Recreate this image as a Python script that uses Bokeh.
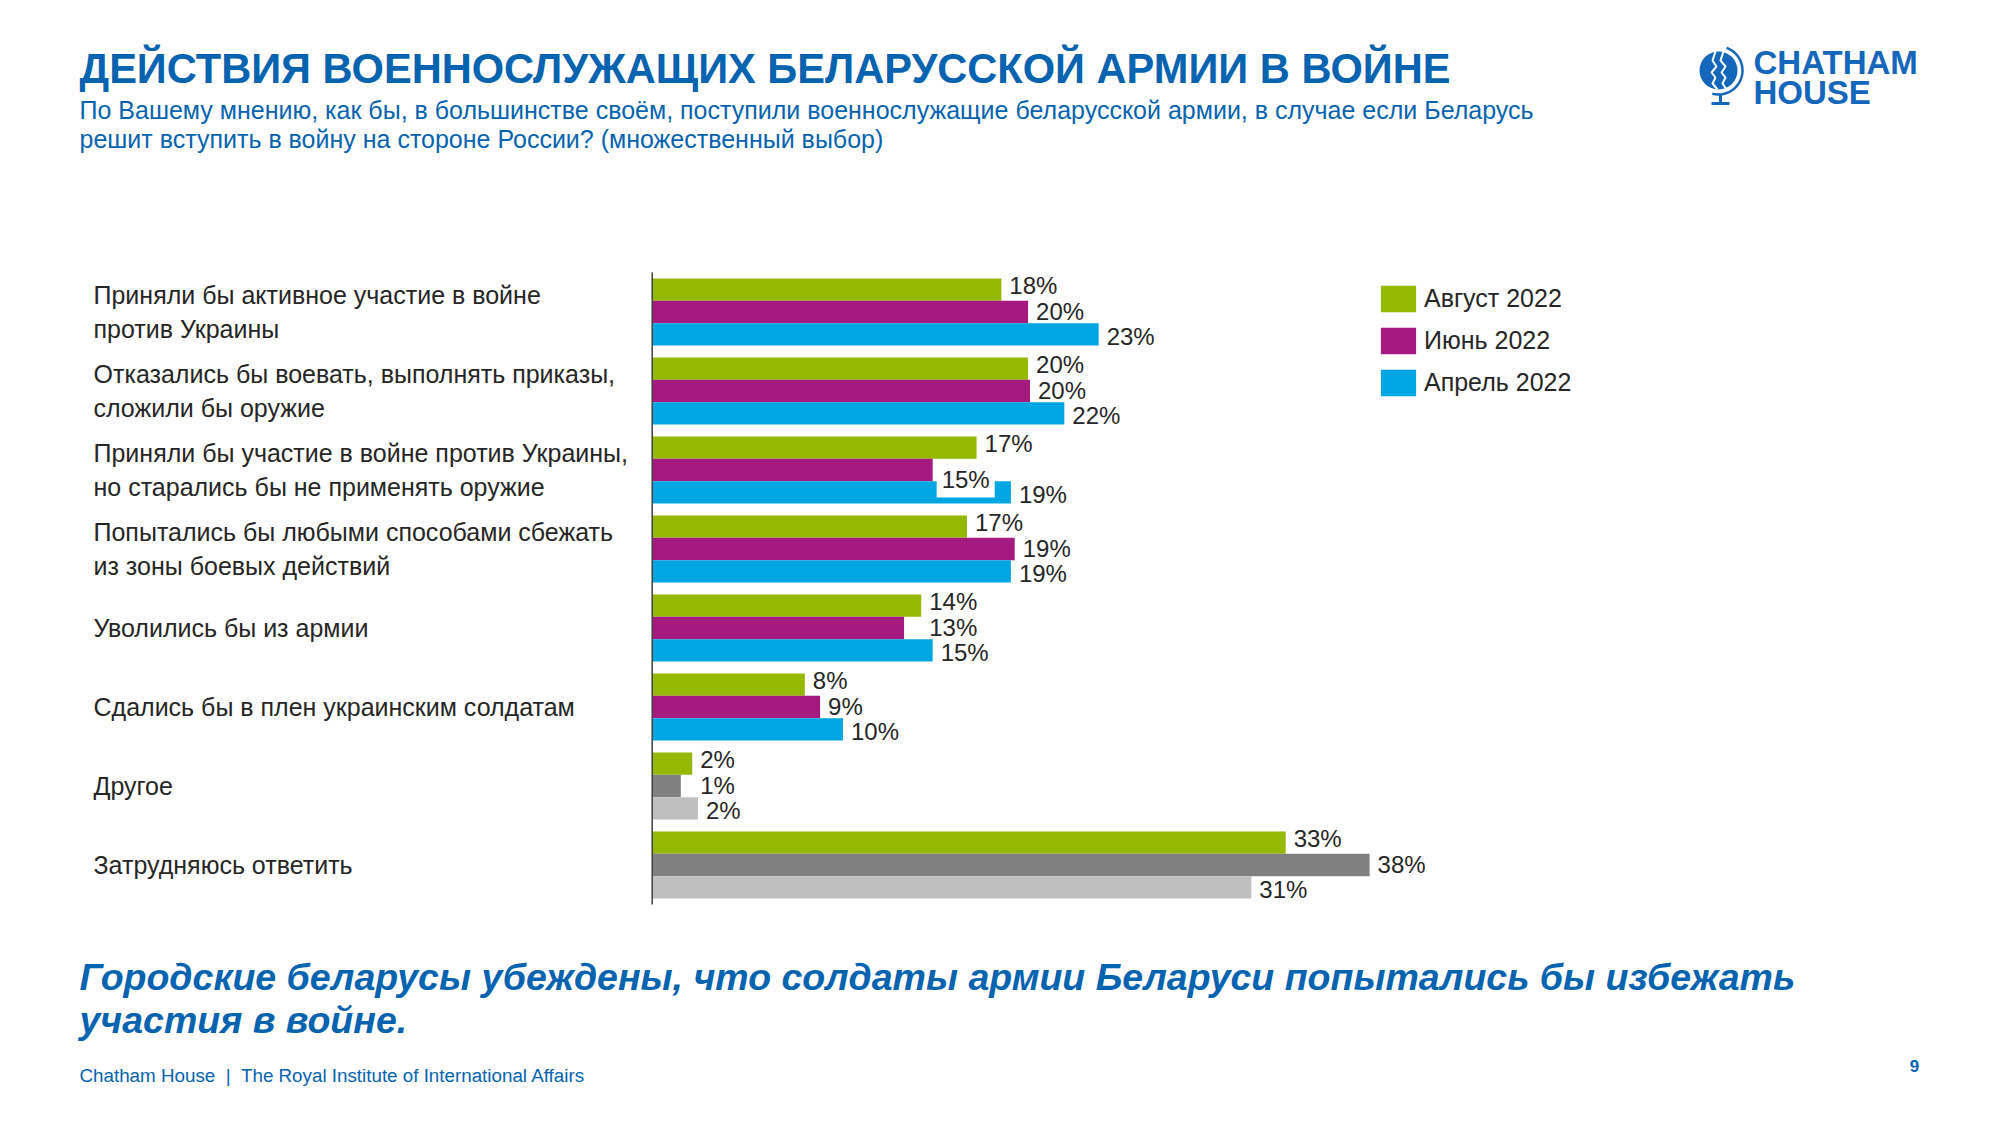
import numpy as np
from bokeh.plotting import figure
from bokeh.models import Range1d, ColumnDataSource, Legend, LegendItem, Label
from bokeh.embed import file_html
from bokeh.resources import INLINE
from bokeh.core.properties import value

# ---------------- data ----------------
categories = [
    "Приняли бы активное участие в войне\nпротив Украины",
    "Отказались бы воевать, выполнять приказы,\nсложили бы оружие",
    "Приняли бы участие в войне против Украины,\nно старались бы не применять оружие",
    "Попытались бы любыми способами сбежать\nиз зоны боевых действий",
    "Уволились бы из армии",
    "Сдались бы в плен украинским солдатам",
    "Другое",
    "Затрудняюсь ответить",
]
series = ["Август 2022", "Июнь 2022", "Апрель 2022"]
aug_2022 = [18.3, 19.7, 17.0, 16.5, 14.1, 8.0, 2.1, 33.2]
jun_2022 = [19.7, 19.8, 14.7, 19.0, 13.2, 8.8, 1.5, 37.6]
apr_2022 = [23.4, 21.6, 18.8, 18.8, 14.7, 10.0, 2.4, 31.4]
aug_labels = ["18%", "20%", "17%", "17%", "14%", "8%", "2%", "33%"]
jun_labels = ["20%", "20%", "15%", "19%", "13%", "9%", "1%", "38%"]
apr_labels = ["23%", "22%", "19%", "19%", "15%", "10%", "2%", "31%"]
gray_categories = ["Другое", "Затрудняюсь ответить"]

title = "ДЕЙСТВИЯ ВОЕННОСЛУЖАЩИХ БЕЛАРУССКОЙ АРМИИ В ВОЙНЕ"
subtitle_lines = [
    "По Вашему мнению, как бы, в большинстве своём, поступили военнослужащие беларусской армии, в случае если Беларусь",
    "решит вступить в войну на стороне России? (множественный выбор)",
]
conclusion_lines = [
    "Городские беларусы убеждены, что солдаты армии Беларуси попытались бы избежать",
    "участия в войне.",
]
footer = "Chatham House\u00a0\u00a0|\u00a0\u00a0The Royal Institute of International Affairs"
page_no = "9"

# ---------------- styles ----------------
W, H = 1984, 1109
PX = 19.08          # pixels per percent
X0 = 651.7          # x of 0 %
Y0 = 272.0          # y of top of first category band
UNIT = 79.0         # pixels per category band
BH = 22.4 / UNIT    # bar thickness in band units

BLUE = "#0563AF"
TEXT = "#262626"
FONT = value("Liberation Sans")
series_colors = ["#95B800", "#A51A7E", "#00A6E2"]
gray_colors = ["#95B800", "#808080", "#BFBFBF"]
label_dy = [-4, -1, 2]


def mid(baseline, size):
    # y for text_baseline="middle" that puts the alphabetic baseline at `baseline`
    return baseline - 0.3465 * size


p = figure(width=W, height=H, x_range=Range1d(0, W), y_range=Range1d(H, 0),
           x_axis_location=None, y_axis_location=None, toolbar_location=None,
           output_backend="svg", min_border=0)
p.outline_line_color = None
p.grid.visible = False
p.background_fill_color = "white"
p.extra_x_ranges = {"pct": Range1d(-X0 / PX, (W - X0) / PX)}
p.extra_y_ranges = {"cat": Range1d((H - Y0) / UNIT, -Y0 / UNIT)}

n = len(categories)
values = [aug_2022, jun_2022, apr_2022]
labels = [aug_labels, jun_labels, apr_labels]
renderers = []
special = None
for j, (vals, labs) in enumerate(zip(values, labels)):
    ys = [i + 0.5 + (j - 1) * BH for i in range(n)]
    cols = [gray_colors[j] if c in gray_categories else series_colors[j] for c in categories]
    src = ColumnDataSource(dict(y=ys, v=vals, color=cols))
    r = p.hbar(y="y", left=0, right="v", height=BH, fill_color="color", line_color=None,
               source=src, x_range_name="pct", y_range_name="cat")
    renderers.append(r)
    # June labels are kept from starting left of the August label above them
    lx = list(np.maximum(vals, aug_2022)) if j == 1 else list(vals)
    keep = [k for k in range(n) if not (j == 1 and k == 2)]
    lsrc = ColumnDataSource(dict(x=[lx[k] for k in keep], y=[ys[k] for k in keep],
                                 t=[labs[k] for k in keep]))
    p.text(x="x", y="y", text="t", source=lsrc, x_offset=8, y_offset=label_dy[j],
           text_baseline="middle", text_align="left", text_font=FONT,
           text_font_size="24px", text_color=TEXT,
           x_range_name="pct", y_range_name="cat")
    if j == 1:
        special = (vals[2], ys[2], labs[2])

lab = Label(x=special[0], y=special[1], text=special[2], x_offset=4, y_offset=-9,
            x_range_name="pct", y_range_name="cat", text_baseline="middle",
            text_font="Liberation Sans", text_font_size="24px", text_color=TEXT,
            background_fill_color="white", padding=5)
p.add_layout(lab)

# axis line
p.segment(x0=[0], y0=[0], x1=[0], y1=[n], line_color="#404040", line_width=1.5,
          x_range_name="pct", y_range_name="cat")

# category labels
p.text(x=[93] * n, y=[i + 0.5 for i in range(n)], text=categories, y_range_name="cat",
       text_baseline="middle", text_align="left", text_font=FONT,
       text_font_size="25px", text_line_height=1.19, text_color=TEXT)

# legend
legend = Legend(items=[LegendItem(label=s, renderers=[r], index=0) for s, r in zip(series, renderers)],
                location=(1376, 710), orientation="vertical", glyph_width=44, glyph_height=33,
                label_height=33, spacing=9, padding=0, margin=0, border_line_color=None,
                background_fill_alpha=0, label_text_font="Liberation Sans",
                label_text_font_size="25px", label_text_color=TEXT, label_standoff=4)
p.add_layout(legend)

# titles
p.text(x=[79], y=[mid(82, 41.6)], text=[title], text_font=FONT, text_font_style="bold",
       text_font_size="41.6px", text_color=BLUE, text_baseline="middle")
for k, line in enumerate(subtitle_lines):
    p.text(x=[79], y=[mid(118.5 + 28.5 * k, 25)], text=[line], text_font=FONT,
           text_font_size="25px", text_color=BLUE, text_baseline="middle")
for k, line in enumerate(conclusion_lines):
    p.text(x=[79], y=[mid(989 + 43 * k, 37.5)], text=[line], text_font=FONT,
           text_font_style="bold italic", text_font_size="37.5px", text_color=BLUE,
           text_baseline="middle")
p.text(x=[79], y=[mid(1081.5, 18.8)], text=[footer], text_font=FONT, text_font_size="18.8px",
       text_color=BLUE, text_baseline="middle")
p.text(x=[1914], y=[1065], text=[page_no], text_font=FONT, text_font_style="bold",
       text_font_size="17px", text_color=BLUE, text_baseline="middle", text_align="center")

# logo
LOGO = "#1467BA"
p.text(x=[1753], y=[mid(73.5, 33)], text=["CHATHAM"], text_font=FONT, text_font_style="bold",
       text_font_size="33px", text_color=LOGO, text_baseline="middle")
p.text(x=[1753], y=[mid(103.5, 33)], text=["HOUSE"], text_font=FONT, text_font_style="bold",
       text_font_size="33px", text_color=LOGO, text_baseline="middle")
cx, cy = 1718, 70
p.circle(x=[cx], y=[cy], radius=19, fill_color=LOGO, line_color=None)
t = np.radians(np.linspace(70, -105, 40))
p.line(x=cx + 24 * np.cos(t), y=cy - 24 * np.sin(t), line_color=LOGO, line_width=2.5)
p.line(x=[cx + 2, cx + 2], y=[cy + 24, cy + 32], line_color=LOGO, line_width=3)
p.line(x=[cx - 7, cx + 11], y=[cy + 33, cy + 33], line_color=LOGO, line_width=3)
p.line(x=[cx - 3, cx - 6, cx - 2, cx - 7, cx - 3, cx - 6, cx - 1],
       y=[cy - 19, cy - 10, cy - 4, cy + 2, cy + 7, cy + 13, cy + 19], line_color="white", line_width=2)
p.line(x=[cx + 5, cx + 2, cx + 7, cx + 3, cx + 7, cx + 4, cx + 8],
       y=[cy - 19, cy - 10, cy - 4, cy + 2, cy + 7, cy + 13, cy + 19], line_color="white", line_width=2)

open("out.html", "w").write(file_html(p, INLINE))
